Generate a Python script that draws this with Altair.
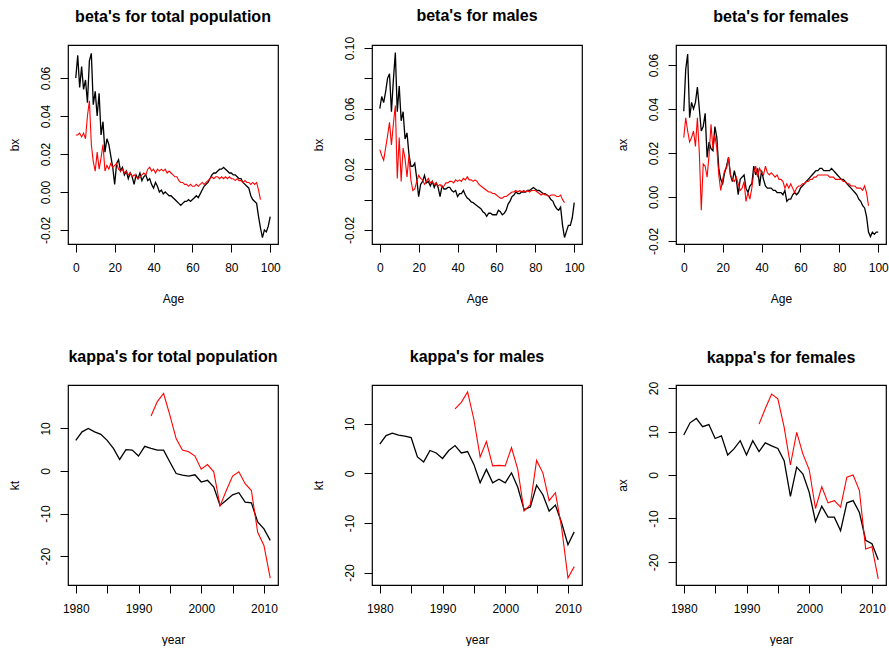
import altair as alt
import pandas as pd

FONT = "Liberation Sans"

# x positions
AGES = list(range(0, 101))
AGES_RED = list(range(0, 96))
YEARS = list(range(1980, 2012))
YEARS_RED = list(range(1992, 2012))

# beta's (bx) by age: black = first fit, red = second fit
bx_total_black = [
    0.060, 0.072, 0.055, 0.066, 0.054, 0.059, 0.047, 0.069, 0.073, 0.046,
    0.053, 0.040, 0.052, 0.030, 0.037, 0.021, 0.028, 0.025, 0.019, 0.013,
    0.004, 0.015, 0.017, 0.011, 0.013, 0.009, 0.011, 0.007, 0.010, 0.008,
    0.004, 0.009, 0.007, 0.010, 0.006, 0.008, 0.009, 0.006, 0.007, 0.004,
    0.002, 0.005, 0.003, 0.000, 0.001, -0.001, 0.000, -0.001, -0.002, -0.002,
    -0.003, -0.004, -0.005, -0.006, -0.007, -0.006, -0.005, -0.005, -0.004, -0.005,
    -0.004, -0.003, -0.002, -0.003, -0.001, 0.001, 0.003, 0.004, 0.005, 0.007,
    0.009, 0.010, 0.010, 0.011, 0.012, 0.012, 0.013, 0.012, 0.011, 0.010,
    0.010, 0.009, 0.009, 0.008, 0.007, 0.007, 0.005, 0.004, 0.003, 0.002,
    -0.002, -0.004, -0.005, -0.006, -0.013, -0.019, -0.024, -0.020, -0.021, -0.018,
    -0.013,
]
bx_total_red = [
    0.030, 0.030, 0.031, 0.029, 0.031, 0.028, 0.040, 0.048, 0.025, 0.016,
    0.011, 0.021, 0.012, 0.018, 0.025, 0.011, 0.014, 0.012, 0.015, 0.013,
    0.014, 0.015, 0.012, 0.011, 0.012, 0.010, 0.011, 0.009, 0.010, 0.008,
    0.009, 0.008, 0.007, 0.008, 0.009, 0.010, 0.009, 0.012, 0.013, 0.011,
    0.012, 0.010, 0.012, 0.011, 0.012, 0.011, 0.012, 0.010, 0.011, 0.010,
    0.009, 0.008, 0.008, 0.006, 0.005, 0.005, 0.004, 0.004, 0.003, 0.004,
    0.003, 0.003, 0.004, 0.003, 0.004, 0.005, 0.004, 0.005, 0.006, 0.007,
    0.008, 0.007, 0.008, 0.008, 0.007, 0.008, 0.007, 0.008, 0.007, 0.008,
    0.007, 0.007, 0.006, 0.007, 0.006, 0.006, 0.005, 0.006, 0.005, 0.005,
    0.004, 0.005, 0.004, 0.005, 0.001, -0.004,
]
bx_male_black = [
    0.060, 0.068, 0.064, 0.071, 0.080, 0.083, 0.058, 0.079, 0.097, 0.058,
    0.075, 0.052, 0.058, 0.040, 0.044, 0.030, 0.022, 0.022, 0.024, 0.014,
    0.002, 0.010, 0.012, 0.016, 0.011, 0.012, 0.009, 0.012, 0.008, 0.011,
    0.008, 0.002, 0.009, 0.007, 0.007, 0.008, 0.008, 0.006, 0.005, 0.006,
    0.002, 0.004, 0.004, 0.006, 0.003, 0.001, 0.000, -0.0015, -0.002, -0.003,
    -0.004, -0.005, -0.006, -0.008, -0.009, -0.011, -0.009, -0.009, -0.010, -0.010,
    -0.010, -0.007, -0.008, -0.010, -0.009, -0.007, -0.003, -0.001, 0.002, 0.003,
    0.005, 0.004, 0.004, 0.005, 0.005, 0.005, 0.006, 0.006, 0.007, 0.008,
    0.007, 0.006, 0.006, 0.005, 0.004, 0.004, 0.003, 0.002, 0.000, -0.001,
    -0.004, -0.006, -0.007, -0.005, -0.017, -0.025, -0.021, -0.017, -0.017, -0.012,
    -0.002,
]
bx_male_red = [
    0.033, 0.029, 0.026, 0.034, 0.042, 0.051, 0.036, 0.050, 0.062, 0.014,
    0.041, 0.012, 0.034, 0.027, 0.015, 0.029, 0.013, 0.006, 0.007, 0.012,
    0.016, 0.014, 0.013, 0.010, 0.012, 0.014, 0.011, 0.012, 0.010, 0.011,
    0.009, 0.010, 0.008, 0.009, 0.011, 0.011, 0.012, 0.012, 0.011, 0.013,
    0.012, 0.013, 0.012, 0.014, 0.013, 0.015, 0.013, 0.013, 0.012, 0.013,
    0.012, 0.010, 0.009, 0.008, 0.007, 0.006, 0.005, 0.005, 0.004, 0.004,
    0.003, 0.002, 0.001, 0.001, 0.002, 0.002, 0.003, 0.004, 0.005, 0.005,
    0.006, 0.005, 0.006, 0.005, 0.006, 0.005, 0.006, 0.005, 0.006, 0.006,
    0.006, 0.005, 0.004, 0.003, 0.004, 0.003, 0.003, 0.002, 0.003, 0.003,
    0.003, 0.002, 0.002, 0.003, 0.000, -0.002,
]
bx_female_black = [
    0.039, 0.058, 0.065, 0.036, 0.043, 0.040, 0.043, 0.050, 0.040, 0.030,
    0.032, 0.038, 0.018, 0.025, 0.022, 0.021, 0.032, 0.027, 0.013, 0.008,
    0.006, 0.011, 0.014, 0.018, 0.010, 0.007, 0.012, 0.008, 0.001, 0.008,
    0.009, 0.010, 0.004, 0.002, 0.005, 0.006, 0.014, 0.010, 0.013, 0.005,
    0.012, 0.008, 0.005, 0.004, 0.004, 0.004, 0.003, 0.003, 0.002, 0.002,
    0.002, 0.001, 0.003, -0.002, -0.001, -0.001, 0.001, 0.002, 0.001, 0.002,
    0.004, 0.005, 0.006, 0.007, 0.008, 0.009, 0.010, 0.011, 0.012, 0.012,
    0.013, 0.013, 0.012, 0.012, 0.012, 0.012, 0.013, 0.012, 0.011, 0.010,
    0.009, 0.008, 0.008, 0.007, 0.006, 0.005, 0.004, 0.003, 0.002, 0.001,
    -0.001, -0.002, -0.004, -0.005, -0.009, -0.016, -0.018, -0.016, -0.017, -0.016,
    -0.016,
]
bx_female_red = [
    0.027, 0.036, 0.030, 0.025, 0.027, 0.030, 0.023, 0.036, 0.020, -0.006,
    0.015, 0.014, 0.009, 0.019, 0.033, 0.022, 0.028, 0.022, 0.010, 0.003,
    0.008, 0.012, 0.013, 0.018, 0.010, 0.008, 0.007, 0.009, 0.006, 0.003,
    0.004, 0.007, -0.002, 0.002, -0.001, 0.004, 0.011, 0.014, 0.009, 0.013,
    0.011, 0.010, 0.014, 0.011, 0.010, 0.011, 0.010, 0.009, 0.010, 0.008,
    0.008, 0.007, 0.004, 0.006, 0.004, 0.006, 0.004, 0.002, 0.004, 0.005,
    0.005, 0.006, 0.006, 0.007, 0.007, 0.008, 0.008, 0.009, 0.009, 0.010,
    0.010, 0.010, 0.010, 0.010, 0.010, 0.009, 0.009, 0.009, 0.008, 0.008,
    0.008, 0.008, 0.007, 0.007, 0.006, 0.006, 0.005, 0.005, 0.005, 0.004,
    0.004, 0.004, 0.003, 0.005, 0.002, -0.004,
]

# kappa's (kt) by calendar year
kt_total_black = [7.2, 9.2, 10.0, 9.2, 8.6, 7.2, 5.3, 2.7, 5.0, 4.9, 3.5, 5.8, 5.3, 4.9, 4.9, 2.1,
                  -0.6, -1.0, -1.2, -0.9, -2.6, -2.2, -3.8, -8.1, -6.9, -5.6, -5.1, -7.3, -7.5,
                  -12.0, -13.6, -16.3]
kt_total_red = [12.9, 16.3, 18.2, 13.1, 7.6, 4.9, 4.5, 3.5, 0.4, 1.5, -0.2, -8.2, -4.6, -1.2,
                -0.2, -3.0, -4.6, -14.4, -17.5, -25.2]
kt_male_black = [5.9, 7.6, 8.1, 7.7, 7.5, 7.2, 3.3, 2.3, 4.6, 4.1, 3.0, 4.6, 5.6, 4.1, 4.4, 1.8,
                 -1.9, 0.8, -1.9, -1.2, -1.9, 0.1, -2.8, -7.3, -6.8, -2.4, -4.3, -7.6, -6.4,
                 -10.0, -14.4, -11.8]
kt_male_red = [13.0, 14.3, 16.4, 10.9, 3.3, 6.4, 1.5, 1.6, 1.5, 5.2, 0.8, -7.6, -6.3, 2.6, 0.1,
               -5.5, -3.9, -11.0, -21.1, -18.8]
kt_female_black = [9.2, 12.0, 13.0, 11.1, 11.6, 8.4, 9.0, 4.6, 6.0, 7.9, 4.6, 7.9, 5.4, 7.4, 6.7,
                   6.1, 3.3, -4.9, 1.8, 0.2, -4.0, -10.7, -7.2, -9.7, -9.7, -12.8, -6.4, -5.9,
                   -8.6, -15.0, -15.8, -19.5]
kt_female_red = [11.7, 15.3, 18.6, 17.5, 11.0, 2.3, 9.8, 4.8, 1.2, -7.7, -2.7, -6.4, -5.9, -7.4,
                 -0.5, 0.0, -3.6, -17.0, -16.5, -23.9]

# tick positions
AGE_TICKS = [0, 20, 40, 60, 80, 100]
YEAR_TICKS = [1980, 1985, 1990, 1995, 2000, 2005, 2010]
BX_TICKS = [-0.02, 0.0, 0.02, 0.04, 0.06]
BX_TICKS_MALE = [-0.02, 0.0, 0.02, 0.04, 0.06, 0.08, 0.10]
KT_TICKS = [-20, -10, 0, 10]
KT_TICKS_FEMALE = [-20, -10, 0, 10, 20]

# label expressions (plain hyphen for negatives)
DEC2 = "(datum.value < 0 ? '-' : '') + format(abs(datum.value), '.2f')"
DEC2_ALT = "(abs(round(datum.value * 100)) % 4 == 2) ? (" + DEC2 + ") : ''"
INT = "(datum.value < 0 ? '-' : '') + format(abs(datum.value), 'd')"
YEAR_LAB = "(datum.value % 10 == 0) ? format(datum.value, 'd') : ''"
AGE_LAB = "format(datum.value, 'd')"


def panel(title, x_title, y_title, x_black, y_black, x_red, y_red,
          x_domain, y_domain, x_ticks, y_ticks, x_label, y_label, height, title_offset):
    black = pd.DataFrame({"x": x_black, "y": y_black})
    red = pd.DataFrame({"x": x_red, "y": y_red})
    x = alt.X("x:Q", scale=alt.Scale(domain=x_domain, nice=False, zero=False),
              axis=alt.Axis(title=x_title, values=x_ticks, labelExpr=x_label))
    y = alt.Y("y:Q", scale=alt.Scale(domain=y_domain, nice=False, zero=False),
              axis=alt.Axis(title=y_title, values=y_ticks, labelExpr=y_label))
    black_line = alt.Chart(black).mark_line(color="#000000", strokeWidth=1.3).encode(x=x, y=y)
    red_line = alt.Chart(red).mark_line(color="#ff0000", strokeWidth=1.1).encode(x=x, y=y)
    return alt.layer(black_line, red_line).properties(
        width=210, height=height,
        title=alt.TitleParams(text=title, offset=title_offset),
    )


AGE_DOM = [-4, 104]
YEAR_DOM = [1978.76, 2012.24]

p1 = panel("beta's for total population", "Age", "bx", AGES, bx_total_black, AGES_RED, bx_total_red,
           AGE_DOM, [-0.0274, 0.0774], AGE_TICKS, BX_TICKS, AGE_LAB, DEC2, 199, 20)
p2 = panel("beta's for males", "Age", "bx", AGES, bx_male_black, AGES_RED, bx_male_red,
           AGE_DOM, [-0.0293, 0.102], AGE_TICKS, BX_TICKS_MALE, AGE_LAB, DEC2_ALT, 199, 12)
p3 = panel("beta's for females", "Age", "ax", AGES, bx_female_black, AGES_RED, bx_female_red,
           AGE_DOM, [-0.0214, 0.0691], AGE_TICKS, BX_TICKS, AGE_LAB, DEC2, 199, 20)
p4 = panel("kappa's for total population", "year", "kt", YEARS, kt_total_black, YEARS_RED, kt_total_red,
           YEAR_DOM, [-26.8, 20.2], YEAR_TICKS, KT_TICKS, YEAR_LAB, INT, 200, 20)
p5 = panel("kappa's for males", "year", "kt", YEARS, kt_male_black, YEARS_RED, kt_male_red,
           YEAR_DOM, [-22.5, 17.8], YEAR_TICKS, KT_TICKS, YEAR_LAB, INT, 200, 20)
p6 = panel("kappa's for females", "year", "ax", YEARS, kt_female_black, YEARS_RED, kt_female_red,
           YEAR_DOM, [-25.3, 20.7], YEAR_TICKS, KT_TICKS_FEMALE, YEAR_LAB, INT, 200, 15)

chart = (
    alt.concat(p1, p2, p3, p4, p5, p6, columns=3,
               spacing=alt.RowColnumber(row=141, column=94), bounds="flush")
    .properties(padding={"left": 7, "top": 7, "right": 0, "bottom": 0})
    .configure_view(stroke="#000000", strokeWidth=1.2)
    .configure_axis(
        domain=False, grid=False, ticks=True, tickColor="#000000", tickSize=8, tickWidth=1,
        labelFont=FONT, labelFontSize=12, labelColor="#000000", labelFlush=False,
        labelOverlap=False, titleFont=FONT, titleFontSize=12, titleFontWeight="normal",
        titleColor="#000000",
    )
    .configure_axisLeft(labelAngle=270, labelAlign="center", labelBaseline="bottom",
                        labelPadding=8, minExtent=28, maxExtent=28, titlePadding=19)
    .configure_axisBottom(labelPadding=10, minExtent=31, maxExtent=31, titlePadding=18)
    .configure_title(font=FONT, fontSize=16, fontWeight="bold", color="#000000",
                     anchor="middle", frame="group")
)

chart.save("out.html", embed_options={"renderer": "svg", "actions": False})
